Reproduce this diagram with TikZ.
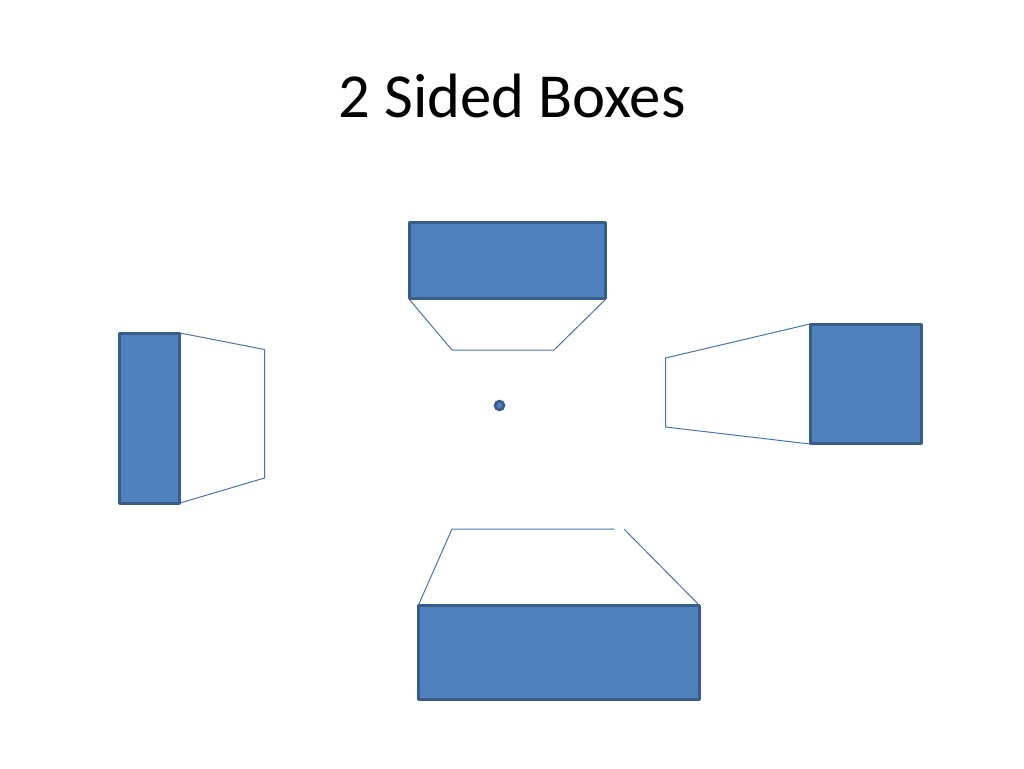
\documentclass[tikz,border=0pt]{standalone}
\usepackage{fontspec}
\setmainfont{Carlito}
\definecolor{boxfill}{HTML}{4F81BD}
\definecolor{boxline}{HTML}{385D8A}
\definecolor{thincol}{HTML}{4A74A8}
\tikzset{x=0.75pt,y=-0.75pt,
  solidbox/.style={draw=boxline,fill=boxfill,line width=2.25pt,line join=round},
  thinline/.style={draw=thincol,line width=0.75pt}}
\begin{document}
\begin{tikzpicture}
\useasboundingbox (0,0) rectangle (1024,768);
\node[font=\fontsize{47}{56}\selectfont,anchor=center,inner sep=0pt] (title) at (512,96) {2 Sided Boxes};
% top
\coordinate (ta) at (409,299); \coordinate (tb) at (606,299);
\coordinate (tc) at (452,350); \coordinate (td) at (554,350);
\draw[thinline] (ta) -- (tc) -- (td) -- (tb);
\path[solidbox] (409.5,222) rectangle (605.5,298.5);
% left
\coordinate (la) at (180,333); \coordinate (lb) at (180,503);
\coordinate (lc) at (264.5,349.5); \coordinate (ld) at (264.5,478);
\draw[thinline] (la) -- (lc) -- (ld) -- (lb);
\path[solidbox] (119.5,333) rectangle (179.5,503);
% right
\coordinate (ra) at (810,324); \coordinate (rb) at (810,444);
\coordinate (rc) at (665.5,358); \coordinate (rd) at (665.5,427);
\draw[thinline] (ra) -- (rc) -- (rd) -- (rb);
\path[solidbox] (810.5,324) rectangle (921.5,443.5);
% bottom
\coordinate (ba) at (418,606); \coordinate (bb) at (700,606);
\coordinate (bc) at (452,529); \coordinate (bd) at (614,529);
\coordinate (be) at (624,529);
\draw[thinline] (ba) -- (bc) -- (bd);
\draw[thinline] (be) -- (bb);
\path[solidbox] (418,605.5) rectangle (699.5,699);
% centre
\node[circle,draw=boxline,fill=boxfill,line width=2pt,minimum size=6.6pt,inner sep=0pt] (dot) at (499.5,405.5) {};
\end{tikzpicture}
\end{document}
